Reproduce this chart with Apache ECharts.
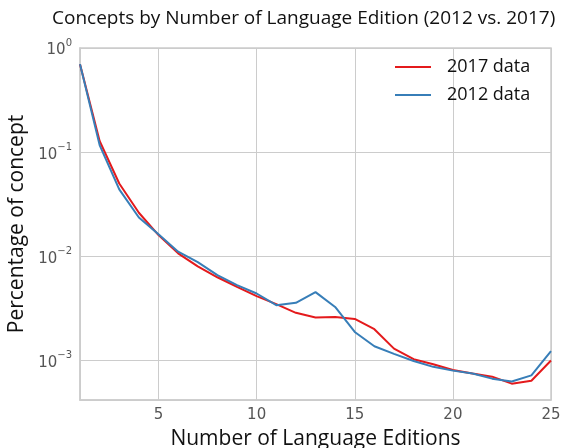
<!DOCTYPE html>
<html>
<head>
<meta charset="utf-8">
<script src="https://cdn.jsdelivr.net/npm/echarts@6/dist/echarts.min.js"></script>
<style>
  html, body { margin: 0; padding: 0; background: #fff; }
  #main { width: 561px; height: 448px; }
</style>
</head>
<body>
<div id="main"></div>
<script>
// number of language editions
var editions = [1, 2, 3, 4, 5, 6, 7, 8, 9, 10, 11, 12, 13, 14, 15, 16, 17, 18, 19, 20, 21, 22, 23, 24, 25]
// share of concepts
var data2017 = [0.70, 0.128, 0.050, 0.0262, 0.0160, 0.0107, 0.0080, 0.0063, 0.0051, 0.00415,
  0.00348, 0.00287, 0.00259, 0.00262, 0.00251, 0.0020, 0.00130, 0.00103, 0.00092, 0.00081,
  0.00075, 0.00070, 0.00060, 0.00064, 0.00100]
var data2012 = [0.70, 0.117, 0.0440, 0.0236, 0.0163, 0.0111, 0.0088, 0.0066, 0.0053, 0.0044,
  0.00340, 0.00358, 0.00454, 0.00327, 0.00188, 0.00137, 0.00116, 0.00099, 0.00087, 0.00080,
  0.00075, 0.00067, 0.00063, 0.00072, 0.00123]
var xTicks = [5, 10, 15, 20, 25]
var supDigits = { '0': '0', '-1': '\u22121', '-2': '\u22122', '-3': '\u22123' }

var myChart = echarts.init(document.getElementById('main'))

var pairs = function (ys) {
  return editions.map(function (x, i) { return [x, ys[i]] })
}

var option = {
  backgroundColor: '#fff',
  animation: false,
  title: {
    text: 'Concepts by Number of Language Edition (2012 vs. 2017)',
    left: 47,
    top: 4,
    textStyle: { fontFamily: 'Open Sans', fontSize: 19, fontWeight: 'normal', color: '#111' }
  },
  legend: {
    orient: 'vertical',
    left: 390,
    top: 53,
    icon: 'rect',
    itemWidth: 36,
    itemHeight: 2,
    itemGap: 10,
    textStyle: { fontFamily: 'Open Sans', fontSize: 18, color: '#111', padding: [0, 0, 0, 11] },
    data: ['2017 data', '2012 data']
  },
  grid: {
    left: 80, right: 10, top: 48, bottom: 48,
    outerBoundsMode: 'none',
    show: true, borderColor: '#cccccc', borderWidth: 1.5
  },
  xAxis: {
    type: 'value',
    min: 1,
    max: 25,
    name: 'Number of Language Editions',
    nameLocation: 'middle',
    nameGap: 29,
    nameTextStyle: { fontFamily: 'Open Sans', fontSize: 21, color: '#111' },
    axisLine: { show: true, lineStyle: { color: '#cccccc', width: 1.5 } },
    axisTick: { show: false },
    axisLabel: {
      margin: 8,
      fontFamily: 'DejaVu Sans', fontSize: 15, color: '#555',
      formatter: function (v) { return xTicks.indexOf(v) >= 0 ? String(v) : '' }
    },
    splitLine: { show: true, lineStyle: { color: '#cccccc', width: 1 } }
  },
  yAxis: {
    type: 'log',
    logBase: 10,
    min: 0.000418,
    max: 1,
    name: 'Percentage of concept',
    nameLocation: 'middle',
    nameGap: 43,
    nameTextStyle: { fontFamily: 'Open Sans', fontSize: 21, color: '#111' },
    axisLine: { show: true, lineStyle: { color: '#cccccc', width: 1.5 } },
    axisTick: { show: false },
    axisLabel: {
      margin: 8,
      formatter: function (v) {
        var e = Math.round(Math.log10(v))
        if (Math.abs(Math.log10(v) - e) > 1e-6) return ''
        return '{b|10}{s|' + supDigits[String(e)] + '}'
      },
      rich: {
        b: { fontFamily: 'DejaVu Sans', fontSize: 15, color: '#555', verticalAlign: 'bottom', lineHeight: 20 },
        s: { fontFamily: 'DejaVu Sans', fontSize: 10, color: '#555', verticalAlign: 'top', lineHeight: 20 }
      }
    },
    splitLine: { show: true, lineStyle: { color: '#cccccc', width: 1 } }
  },
  series: [
    {
      name: '2017 data',
      type: 'line',
      data: pairs(data2017),
      symbol: 'none',
      color: '#e41a1c',
      lineStyle: { width: 2, color: '#e41a1c' }
    },
    {
      name: '2012 data',
      type: 'line',
      data: pairs(data2012),
      symbol: 'none',
      color: '#377eb8',
      lineStyle: { width: 2, color: '#377eb8' }
    }
  ]
}

myChart.setOption(option)
</script>
</body>
</html>
